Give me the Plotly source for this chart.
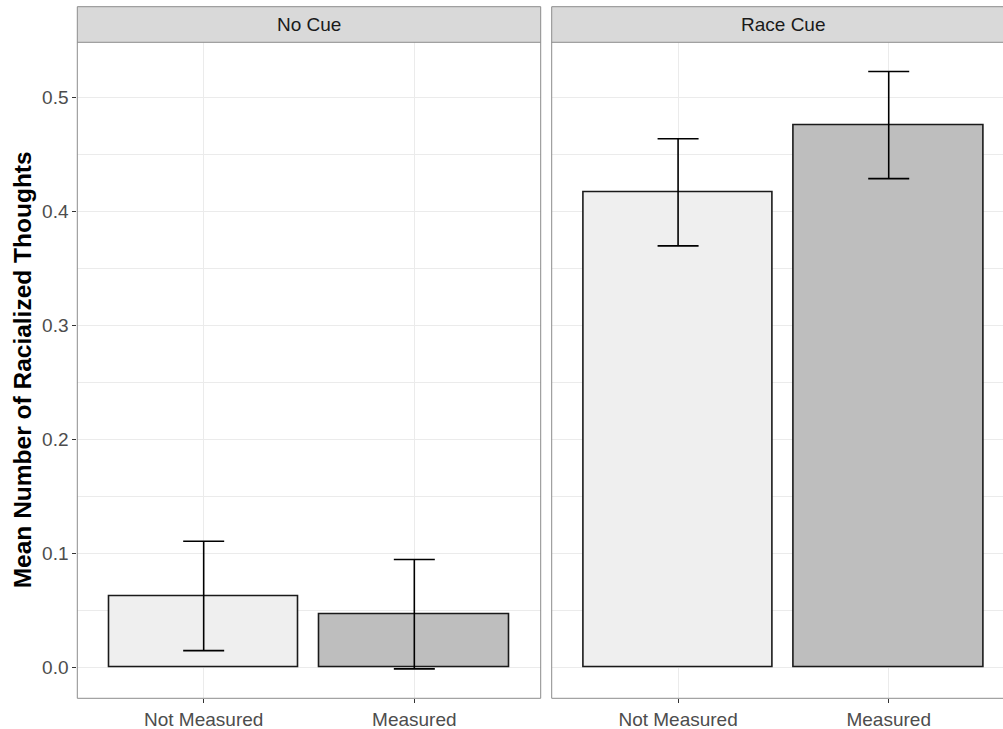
import plotly.graph_objects as go

# ---- data ----
panels = ["No Cue", "Race Cue"]
categories = ["Not Measured", "Measured"]
means_no_cue = [0.063, 0.047]
lower_no_cue = [0.015, -0.001]
upper_no_cue = [0.111, 0.095]
means_race_cue = [0.417, 0.476]
lower_race_cue = [0.370, 0.429]
upper_race_cue = [0.464, 0.523]
bar_colors = ["#EFEFEF", "#BEBEBE"]
y_ticks = [0.0, 0.1, 0.2, 0.3, 0.4, 0.5]
y_minor = [0.05, 0.15, 0.25, 0.35, 0.45]

W, H = 1003, 729
px = lambda v: v / W
py = lambda v: 1 - v / H

L0, L1 = 77.3, 540.7
R0 = 551.7
PT, PB = 42.3, 698.3
ST = 6.7
unit = (L1 - L0) / 2.2

FONT = "Liberation Sans, Arial, Helvetica, sans-serif"
BORDER = "#8C8C8C"

fig = go.Figure()

series = [(means_no_cue, lower_no_cue, upper_no_cue, "x", "y"),
          (means_race_cue, lower_race_cue, upper_race_cue, "x2", "y2")]
for means, lows, ups, xa, ya in series:
    fig.add_trace(go.Bar(
        x=categories, y=means, xaxis=xa, yaxis=ya, width=0.9,
        marker=dict(color=bar_colors, line=dict(color="#1A1A1A", width=1.6)),
        error_y=dict(type="data", symmetric=False,
                     array=[u - m for u, m in zip(ups, means)],
                     arrayminus=[m - l for m, l in zip(means, lows)],
                     color="#000000", thickness=1.6, width=20.5),
        showlegend=False, hoverinfo="skip"))

yr = [-0.0268, 0.5486]
common_y = dict(range=yr, domain=[py(PB), py(PT)], zeroline=False,
                tickvals=y_ticks, showgrid=True, gridcolor="#EBEBEB", gridwidth=1.1,
                minor=dict(tickvals=y_minor, showgrid=True, gridcolor="#EBEBEB",
                           gridwidth=0.55, ticks=""),
                showline=False, fixedrange=True)
xr2_end = -0.6 + (W - R0) / unit
common_x = dict(type="category", categoryorder="array", categoryarray=categories,
                showgrid=True, gridcolor="#EBEBEB", gridwidth=1.1, zeroline=False,
                ticks="outside", ticklen=4, tickcolor="#333333", tickwidth=1,
                tickfont=dict(family=FONT, size=19, color="#4D4D4D"),
                showline=False, fixedrange=True)

fig.update_layout(
    width=W, height=H,
    margin=dict(l=0, r=0, t=0, b=0, autoexpand=False),
    paper_bgcolor="white", plot_bgcolor="white",
    bargap=0,
    xaxis=dict(domain=[px(L0), px(L1)], range=[-0.6, 1.6], anchor="y", **common_x),
    xaxis2=dict(domain=[px(R0), 1.0], range=[-0.6, xr2_end], anchor="y2", **common_x),
    yaxis=dict(anchor="x", ticks="outside", ticklen=4, tickcolor="#333333",
               tickformat=".1f",
               tickfont=dict(family=FONT, size=19, color="#4D4D4D"), **common_y),
    yaxis2=dict(anchor="x2", showticklabels=False, ticks="", matches="y", **common_y),
)


def hline(x0, x1, y):
    return dict(type="line", xref="paper", yref="paper", x0=px(x0), x1=px(x1),
                y0=py(y), y1=py(y), line=dict(color=BORDER, width=1), layer="above")


def vline(x, y0, y1):
    return dict(type="line", xref="paper", yref="paper", x0=px(x), x1=px(x),
                y0=py(y0), y1=py(y1), line=dict(color=BORDER, width=1), layer="above")


shapes = [
    # strips fill
    dict(type="rect", xref="paper", yref="paper", x0=px(L0), x1=px(L1),
         y0=py(PT), y1=py(ST), fillcolor="#D9D9D9", line=dict(width=0), layer="above"),
    dict(type="rect", xref="paper", yref="paper", x0=px(R0), x1=1.0,
         y0=py(PT), y1=py(ST), fillcolor="#D9D9D9", line=dict(width=0), layer="above"),
    # left panel + strip borders
    hline(L0, L1, ST), hline(L0, L1, PT), hline(L0, L1, PB),
    vline(L0, ST, PB), vline(L1, ST, PB),
    # right panel + strip borders (right edge lies outside the picture)
    hline(R0, W + 2, ST), hline(R0, W + 2, PT), hline(R0, W + 2, PB),
    vline(R0, ST, PB),
]
fig.update_layout(shapes=shapes)

annotations = []
for name, (x0, x1) in zip(panels, [(L0, L1), (R0, R0 + (L1 - L0))]):
    annotations.append(dict(text=name, xref="paper", yref="paper",
                            x=px((x0 + x1) / 2), y=py((ST + PT) / 2),
                            xanchor="center", yanchor="middle", showarrow=False,
                            font=dict(family=FONT, size=19, color="#1A1A1A")))
annotations.append(dict(text="<b>Mean Number of Racialized Thoughts</b>",
                        xref="paper", yref="paper", x=px(22), y=py((PT + PB) / 2),
                        xanchor="center", yanchor="middle", textangle=-90,
                        showarrow=False, font=dict(family=FONT, size=24.5, color="#000000")))
fig.update_layout(annotations=annotations)

fig.write_html("out.html", config={"displayModeBar": False},
               post_script="document.body.style.margin='0';document.body.style.overflow='hidden';")
